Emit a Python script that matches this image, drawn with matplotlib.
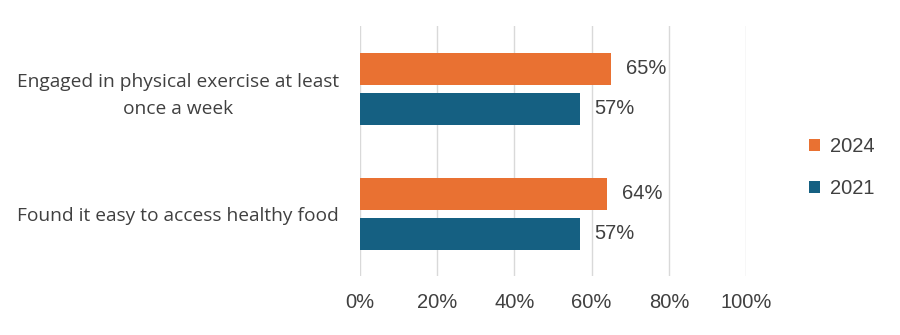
import numpy as np
import matplotlib.pyplot as plt

categories = ["Engaged in physical exercise at least\nonce a week",
              "Found it easy to access healthy food"]
years = ["2024", "2021"]
vals_2024 = [65, 64]
vals_2021 = [57, 57]
colors = {"2024": "#E97132", "2021": "#156082"}
text_col = "#404040"

fig = plt.figure(figsize=(9, 3.35), dpi=100)
ax = fig.add_axes([0.4, 0.176, 0.429, 0.746])

y = np.array([1, 0])
h = 0.256
off = 0.16
b1 = ax.barh(y + off, vals_2024, height=h, color=colors["2024"], label="2024", zorder=3)
b2 = ax.barh(y - off, vals_2021, height=h, color=colors["2021"], label="2021", zorder=3)

for bars in (b1, b2):
    for r in bars:
        w = r.get_width()
        ax.text(w + 3.8, r.get_y() + r.get_height() / 2, f"{w:.0f}%",
                va="center", ha="left", fontsize=14.5, color=text_col,
                family="Liberation Sans")

ax.set_xlim(0, 100)
ax.set_ylim(-0.5, 1.5)
ax.set_xticks(np.arange(0, 101, 20))
ax.set_xticklabels([f"{t}%" for t in range(0, 101, 20)], family="Liberation Sans",
                   fontsize=14.5, color=text_col)
ax.set_yticks(y)
ax.set_yticklabels(categories, fontsize=13.8, color=text_col, family="Open Sans",
                   linespacing=1.65, multialignment="center")
ax.tick_params(axis="both", length=0)
ax.tick_params(axis="x", pad=12)
ax.tick_params(axis="y", pad=15)
ax.grid(axis="x", color="#D9D9D9", lw=1, zorder=0)
for s in ax.spines.values():
    s.set_visible(False)

ax.legend(handles=[b1, b2], loc="center left", bbox_to_anchor=(1.115, 0.435),
          frameon=False, handlelength=0.55, handleheight=0.55,
          labelspacing=1.15, handletextpad=0.5,
          prop={"family": "Liberation Sans", "size": 14.5})
for t in ax.get_legend().get_texts():
    t.set_color(text_col)

fig.savefig("out.png", dpi=100)
